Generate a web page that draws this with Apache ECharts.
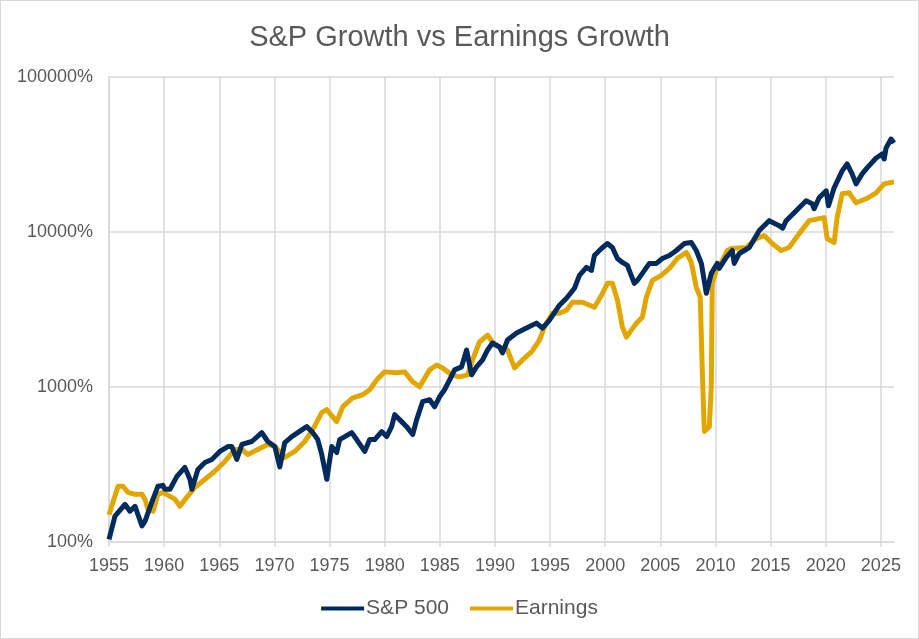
<!DOCTYPE html>
<html>
<head>
<meta charset="utf-8">
<script src="https://cdn.jsdelivr.net/npm/echarts@6/dist/echarts.min.js"></script>
<style>
    html, body { margin: 0; padding: 0; background: #fff; }
    #chart { width: 919px; height: 639px; box-sizing: border-box; border: 1px solid #D9D9D9; }
</style>
</head>
<body>
<div id="chart"></div>
<script>
// S&P 500 growth, % of 1955 level (decimal year / value)
var spYears = [1955.0, 1955.54, 1956.45, 1956.9, 1957.36, 1957.99, 1958.26, 1958.89, 1959.44, 1959.89,
    1960.07, 1960.53, 1961.16, 1961.88, 1962.34, 1962.52, 1963.06, 1963.7, 1964.33, 1965.05,
    1965.78, 1966.14, 1966.59, 1967.05, 1967.95, 1968.86, 1969.4, 1970.04, 1970.49, 1970.94,
    1971.58, 1972.12, 1972.93, 1973.48, 1973.93, 1974.29, 1974.75, 1975.2, 1975.65, 1975.92,
    1977.01, 1977.46, 1978.19, 1978.64, 1979.09, 1979.73, 1980.18, 1980.63, 1980.91, 1981.54,
    1981.99, 1982.54, 1982.9, 1983.44, 1984.08, 1984.53, 1984.98, 1985.43, 1985.89, 1986.34,
    1986.97, 1987.43, 1987.88, 1988.33, 1988.88, 1989.33, 1989.78, 1990.42, 1990.69, 1991.14,
    1991.96, 1992.86, 1993.77, 1994.31, 1994.95, 1995.85, 1996.49, 1997.21, 1997.66, 1998.3,
    1998.75, 1999.02, 1999.66, 2000.2, 2000.65, 2001.11, 2001.56, 2002.01, 2002.64, 2002.92,
    2003.37, 2004.0, 2004.64, 2005.18, 2005.82, 2006.45, 2007.17, 2007.81, 2008.26, 2008.72,
    2009.17, 2009.62, 2010.16, 2010.34, 2010.98, 2011.52, 2011.7, 2012.16, 2013.07, 2013.97,
    2014.87, 2015.78, 2016.1, 2016.41, 2017.32, 2018.22, 2018.77, 2018.95, 2019.4, 2020.04,
    2020.25, 2020.76, 2021.49, 2021.94, 2022.39, 2022.75, 2023.3, 2023.75, 2024.57, 2025.11,
    2025.3, 2025.47, 2025.92, 2026.19];
var spValues = [104, 147, 175, 158, 170, 127, 136, 181, 229, 232,
    219, 219, 265, 303, 254, 219, 294, 326, 341, 384,
    413, 413, 341, 426, 445, 508, 445, 413, 305, 438,
    479, 508, 555, 508, 458, 367, 254, 413, 378, 458,
    508, 458, 384, 458, 458, 516, 479, 555, 663, 598,
    555, 493, 616, 804, 828, 746, 865, 960, 1112, 1290,
    1348, 1733, 1198, 1348, 1495, 1733, 1922, 1811, 1658, 2010,
    2228, 2399, 2583, 2399, 2700, 3371, 3738, 4332, 5251, 5909,
    5652, 7057, 7826, 8425, 7942, 6750, 6363, 6086, 4665, 4877,
    5408, 6269, 6269, 6750, 7057, 7597, 8425, 8551, 7597, 6269,
    4023, 5408, 6269, 5823, 6850, 7597, 6269, 7268, 7942, 10209,
    11836, 10991, 10600, 11836, 13722, 15903, 15214, 14130, 16625, 18440,
    14770, 19275, 24784, 27479, 23706, 20453, 23706, 25906, 30034, 31861,
    29590, 34811, 39775, 37485];

// Earnings growth, % of 1955 level
var epsYears = [1955.0, 1955.82, 1956.27, 1956.72, 1957.36, 1957.99, 1958.26, 1958.53, 1958.99, 1959.44,
    1959.89, 1960.53, 1960.98, 1961.43, 1962.07, 1962.79, 1963.7, 1964.6, 1965.51, 1966.41,
    1967.05, 1967.59, 1968.5, 1969.4, 1970.04, 1970.94, 1971.85, 1972.75, 1973.48, 1974.29,
    1974.75, 1975.65, 1976.2, 1977.1, 1978.01, 1978.64, 1979.28, 1980.0, 1981.09, 1981.81,
    1982.54, 1983.17, 1984.08, 1984.71, 1985.25, 1986.07, 1986.79, 1987.52, 1987.97, 1988.6,
    1989.33, 1989.96, 1990.69, 1991.14, 1991.78, 1992.5, 1993.32, 1994.04, 1994.49, 1995.22,
    1995.85, 1996.49, 1997.03, 1997.93, 1999.02, 1999.66, 2000.2, 2000.65, 2001.11, 2001.56,
    2001.92, 2002.37, 2002.83, 2003.37, 2003.73, 2004.28, 2005.09, 2005.82, 2006.54, 2007.36,
    2007.81, 2008.26, 2008.62, 2008.81, 2008.99, 2009.17, 2009.44, 2009.62, 2009.71, 2010.07,
    2010.53, 2011.07, 2011.43, 2012.79, 2013.7, 2014.42, 2015.14, 2015.96, 2016.68, 2017.59,
    2018.5, 2019.4, 2019.86, 2020.13, 2020.76, 2021.03, 2021.49, 2022.12, 2022.75, 2023.66,
    2024.57, 2025.29, 2026.19];
var epsValues = [150, 229, 229, 209, 203, 203, 189, 163, 158, 203,
    209, 197, 189, 170, 195, 225, 254, 286, 331, 395,
    395, 367, 395, 426, 413, 351, 384, 445, 531, 683,
    714, 598, 746, 852, 891, 960, 1112, 1252, 1234, 1252,
    1080, 1003, 1290, 1388, 1328, 1198, 1163, 1198, 1495, 1951,
    2163, 1866, 1785, 1733, 1328, 1495, 1683, 2010, 2435, 2994,
    2994, 3129, 3524, 3524, 3272, 3906, 4665, 4665, 3629, 2435,
    2100, 2328, 2583, 2822, 3794, 4877, 5251, 5823, 6750, 7376,
    6363, 4397, 3794, 1234, 516, 516, 555, 1003, 4665, 5652,
    6363, 7597, 7826, 7942, 9071, 9482, 8425, 7597, 7942, 9765,
    11836, 12190, 12372, 9071, 8551, 12372, 17641, 17903, 15441, 16381,
    17903, 20453, 21067];

var yTicks = [100, 1000, 10000, 100000];

function pairs(xs, ys) {
    return xs.map(function (x, i) { return [x, ys[i]]; });
}

var myChart = echarts.init(document.getElementById('chart'));
var axisText = { color: '#595959', fontSize: 18, fontFamily: 'Liberation Sans' };

var options = {
    animation: false,
    title: {
        text: 'S&P Growth vs Earnings Growth',
        left: 'center',
        top: 17,
        textStyle: { color: '#595959', fontSize: 29, fontWeight: 'normal', fontFamily: 'Liberation Sans' }
    },
    legend: {
        bottom: 14,
        left: 'center',
        icon: 'rect',
        itemWidth: 43,
        itemHeight: 4,
        itemGap: 21,
        textStyle: { color: '#595959', fontSize: 21, fontFamily: 'Liberation Sans', padding: [0, 0, 0, -3] },
        data: ['S&P 500', 'Earnings']
    },
    grid: { left: 108, right: 24, top: 76, bottom: 96 },
    xAxis: {
        type: 'value',
        min: 1955,
        max: 2026.19,
        interval: 5,
        axisLine: { lineStyle: { color: '#D9D9D9', width: 1.5 } },
        axisTick: { show: true, length: 5, lineStyle: { color: '#D9D9D9', width: 1.5 } },
        axisLabel: Object.assign({
            margin: 15,
            showMaxLabel: false,
            formatter: function (v) { return String(Math.round(v)); }
        }, axisText),
        splitLine: { show: true, showMaxLine: false, lineStyle: { color: '#D9D9D9', width: 1.5 } }
    },
    yAxis: {
        type: 'log',
        logBase: 10,
        min: yTicks[0],
        max: yTicks[yTicks.length - 1],
        axisLine: { show: true, lineStyle: { color: '#D9D9D9', width: 1.5 } },
        axisTick: { show: false },
        axisLabel: Object.assign({
            margin: 16,
            formatter: function (v) { return Math.round(v) + '%'; }
        }, axisText),
        splitLine: { show: true, lineStyle: { color: '#D9D9D9', width: 1.5 } }
    },
    series: [
        {
            name: 'S&P 500',
            type: 'line',
            showSymbol: false,
            z: 3,
            color: '#002B5C',
            lineStyle: { width: 5, color: '#002B5C', join: 'round' },
            data: pairs(spYears, spValues)
        },
        {
            name: 'Earnings',
            type: 'line',
            showSymbol: false,
            z: 2,
            color: '#E1A700',
            lineStyle: { width: 5, color: '#E1A700', join: 'round' },
            data: pairs(epsYears, epsValues)
        }
    ]
};
myChart.setOption(options);
</script>
</body>
</html>
